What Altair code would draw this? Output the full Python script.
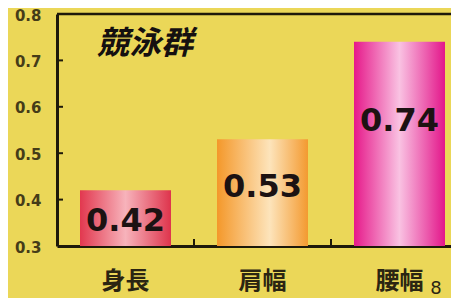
import altair as alt
import pandas as pd

cats = ["身長", "肩幅", "腰幅"]
vals = [0.42, 0.53, 0.74]
ytick_vals = [0.3, 0.4, 0.5, 0.6, 0.7, 0.8]
inner_ticks = [0.4, 0.5, 0.6, 0.7]
title_text = "競泳群"
footnote = "8"

gradients = [
    [("#e2384f", 0.0), ("#f7b3bb", 0.5), ("#de344c", 1.0)],
    [("#f4982a", 0.0), ("#fde4bb", 0.58), ("#f39a30", 1.0)],
    [("#e6198a", 0.0), ("#f9c2e2", 0.5), ("#e3168a", 1.0)],
]
label_dy = [31, 48, 79]

df = pd.DataFrame({"cat": cats, "val": vals})
W, H = 394, 232

xscale = alt.Scale(domain=cats, range=[0, 411], paddingInner=0, paddingOuter=0)
yscale = alt.Scale(domain=[0.3, 0.8], nice=False, zero=False)

xaxis = alt.Axis(title=None, labelAngle=0, tickSize=0, labelPadding=23,
                 labelFont="Noto Sans CJK JP", labelFontWeight="bold",
                 labelFontSize=24, labelColor="#2b2512",
                 domainColor="#1e190a", domainWidth=3)
yaxis = alt.Axis(title=None, values=ytick_vals, format=".1f", tickSize=0,
                 labelPadding=16, labelOffset=1, labelFont="DejaVu Sans",
                 labelFontWeight="bold", labelFontSize=15,
                 labelColor="#453c18", domainColor="#1e190a",
                 domainWidth=3, grid=False)
X = alt.X("cat:N", sort=cats, scale=xscale, axis=xaxis)
Y = alt.Y("val:Q", scale=yscale, axis=yaxis)

layers = []
for i, c in enumerate(cats):
    g = alt.Gradient(gradient="linear", x1=0, x2=1, y1=0, y2=0,
                     stops=[alt.GradientStop(color=col, offset=o) for col, o in gradients[i]])
    base = alt.Chart(df).transform_filter(alt.datum.cat == c)
    layers.append(base.mark_bar(width=91, color=g).encode(x=X, y=Y, y2=alt.datum(0.3)))
    layers.append(base.mark_text(font="DejaVu Sans", fontWeight="bold", fontSize=32,
                                 color="#1c1212", baseline="middle", dy=label_dy[i])
                  .encode(x=X, y=Y, text=alt.Text("val:Q", format=".2f")))

tick_df = pd.DataFrame({"val": inner_ticks})
yticks = alt.Chart(tick_df).mark_rule(color="#1e190a", strokeWidth=2).encode(
    y=Y, x=alt.value(0), x2=alt.value(6))

xt_df = pd.DataFrame({"cat": cats[1:]})
xticks = alt.Chart(xt_df).mark_rule(color="#1e190a", strokeWidth=2).encode(
    x=alt.X("cat:N", sort=cats, scale=xscale, bandPosition=0, axis=xaxis),
    y=alt.value(H - 7), y2=alt.value(H))

one = alt.Data(values=[{"a": 1}])
top = alt.Chart(one).mark_rule(color="#1e190a", strokeWidth=2.5).encode(
    x=alt.value(0), x2=alt.value(W + 20), y=alt.value(0))
title = alt.Chart(one).mark_text(font="Noto Sans CJK JP", fontWeight="bold",
                                 fontStyle="italic", fontSize=32, color="#151010",
                                 baseline="middle").encode(
    x=alt.value(88), y=alt.value(30), text=alt.value(title_text))
foot = alt.Chart(one).mark_text(font="DejaVu Sans", fontSize=18, color="#2b2512",
                                baseline="middle").encode(
    x=alt.value(379), y=alt.value(275), text=alt.value(footnote))

chart = alt.layer(*layers, yticks, xticks, top, title, foot).properties(
    width=W, height=H,
    autosize=alt.AutoSizeParams(type="none"),
    padding={"left": 49, "top": 6, "right": 0, "bottom": 52},
    background="#ebd758",
).configure_view(stroke=None)

chart.save("out.html", embed_options={"renderer": "svg", "actions": False})
